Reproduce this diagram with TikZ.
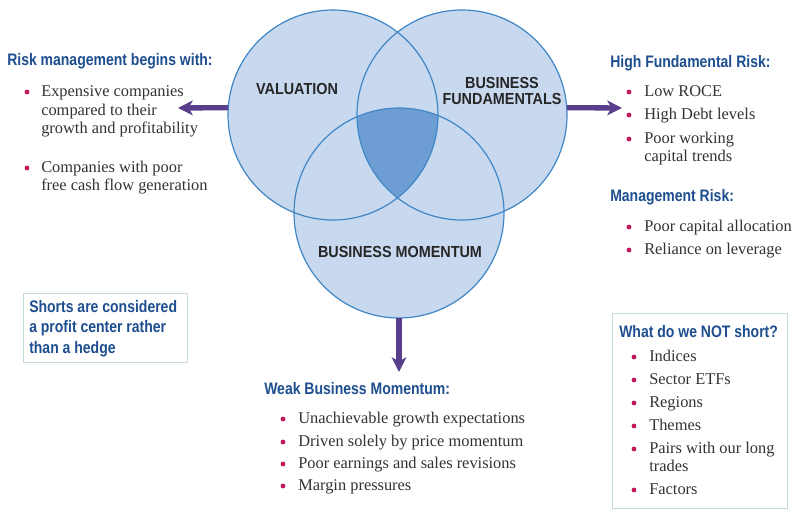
\documentclass[tikz,border=0pt]{standalone}
\usepackage{fontspec}
\setmainfont{Liberation Serif}
\newfontfamily\condf[FakeStretch=0.84]{Liberation Sans}
\newfontfamily\labf[FakeStretch=0.9]{Liberation Sans}
\usetikzlibrary{arrows.meta}
\definecolor{hblue}{HTML}{1D4E8F}
\definecolor{bodyc}{HTML}{333333}
\definecolor{bulc}{HTML}{C2185B}
\definecolor{cfill}{HTML}{C8D9EF}
\definecolor{cline}{HTML}{3F86C6}
\definecolor{ccen}{HTML}{6E9DD3}
\definecolor{arrc}{HTML}{593E8C}
\definecolor{boxc}{HTML}{C6D9DC}
\begin{document}
\begin{tikzpicture}[x=0.75pt,y=-0.75pt,
 body/.style={anchor=west,inner sep=0,font=\fontsize{12.3}{14}\selectfont,text=bodyc,text height=8.6pt,text depth=2.4pt},
 head/.style={anchor=west,inner sep=0,font=\condf\bfseries\fontsize{12.5}{15}\selectfont,text=hblue,text height=9pt,text depth=2.5pt},
 clabel/.style={inner sep=0,font=\labf\bfseries\fontsize{12}{13.5}\selectfont,text=black!85},
 bul/.style={circle,fill=bulc,inner sep=0,minimum size=3.6pt},
 vc/.style={circle,inner sep=0,minimum size=157.5pt,fill=cfill},
 arr/.style={draw=arrc,line width=4pt,-{Stealth[length=11pt,width=11pt,inset=3pt]}},
 sbox/.style={draw=boxc,line width=0.8pt,inner sep=0,anchor=north west}]
\useasboundingbox[fill=white] (0,0) rectangle (800,515);

% Venn circles
\node[vc] (val) at (333,115) {};
\node[vc] (bf) at (462,115) {};
\node[vc] (mom) at (399,213) {};
\begin{scope}
  \clip (333,115) circle[radius=78.75pt];
  \clip (462,115) circle[radius=78.75pt];
  \fill[ccen] (399,213) circle[radius=78.75pt];
\end{scope}
\draw[cline,line width=0.9pt] (val.center) circle[radius=78.75pt];
\draw[cline,line width=0.9pt] (bf.center) circle[radius=78.75pt];
\draw[cline,line width=0.9pt] (mom.center) circle[radius=78.75pt];

\node[clabel] (lval) at (297,89) {VALUATION};
\node[clabel,align=center] (lbf) at (502,91) {BUSINESS\\[-1.5pt]FUNDAMENTALS};
\node[clabel] (lmom) at (400,252) {BUSINESS MOMENTUM};

% arrows
\coordinate (tl) at (178,108);
\coordinate (tr) at (622,108);
\coordinate (tb) at (399,372);
\draw[arr] (val.176) -- (tl);
\draw[arr] (bf.4) -- (tr);
\draw[arr] (mom.south) -- (tb);

% left block
\node[head] (hl) at (7,61) {Risk management begins with:};
\node[bul] (bl1) at (27,92) {};
\node[bul] (bl2) at (27,168) {};
\node[body] (tl1) at (41,92) {Expensive companies};
\node[body] (tl2) at (41,111) {compared to their};
\node[body] (tl3) at (41,129) {growth and profitability};
\node[body] (tl4) at (41,168) {Companies with poor};
\node[body] (tl5) at (41,186) {free cash flow generation};

% shorts box
\node[sbox,minimum width=123pt,minimum height=51.75pt] (sb) at (23,293) {};
\node[head] (s1) at (29,308) {Shorts are considered};
\node[head] (s2) at (29,328) {a profit center rather};
\node[head] (s3) at (29,349) {than a hedge};

% right block
\node[head] (hr) at (610,63) {High Fundamental Risk:};
\node[bul] (br1) at (629,92) {};
\node[bul] (br2) at (629,115) {};
\node[bul] (br3) at (629,139) {};
\node[body] (tr1) at (644,92) {Low ROCE};
\node[body] (tr2) at (644,115) {High Debt levels};
\node[body] (tr3) at (644,139) {Poor working};
\node[body] (tr4) at (644,157) {capital trends};
\node[head] (hm) at (610,197) {Management Risk:};
\node[bul] (bm1) at (629,227) {};
\node[bul] (bm2) at (629,250) {};
\node[body] (tm1) at (644,227) {Poor capital allocation};
\node[body] (tm2) at (644,250) {Reliance on leverage};

% not short box
\node[sbox,minimum width=131.25pt,minimum height=146.25pt] (nb) at (612,313) {};
\node[head] (hn) at (619,333) {What do we NOT short?};
\node[bul] (bn1) at (634,357) {};
\node[bul] (bn2) at (634,380) {};
\node[bul] (bn3) at (634,403) {};
\node[bul] (bn4) at (634,426) {};
\node[bul] (bn5) at (634,449) {};
\node[bul] (bn6) at (634,490) {};
\node[body] (tn1) at (649,357) {Indices};
\node[body] (tn2) at (649,380) {Sector ETFs};
\node[body] (tn3) at (649,403) {Regions};
\node[body] (tn4) at (649,426) {Themes};
\node[body] (tn5) at (649,449) {Pairs with our long};
\node[body] (tn6) at (649,467) {trades};
\node[body] (tn7) at (649,490) {Factors};

% bottom block
\node[head] (hb) at (264,390) {Weak Business Momentum:};
\node[bul] (bb1) at (283,419) {};
\node[bul] (bb2) at (283,442) {};
\node[bul] (bb3) at (283,464) {};
\node[bul] (bb4) at (283,486) {};
\node[body] (tb1) at (298,419) {Unachievable growth expectations};
\node[body] (tb2) at (298,442) {Driven solely by price momentum};
\node[body] (tb3) at (298,464) {Poor earnings and sales revisions};
\node[body] (tb4) at (298,486) {Margin pressures};
\end{tikzpicture}
\end{document}
